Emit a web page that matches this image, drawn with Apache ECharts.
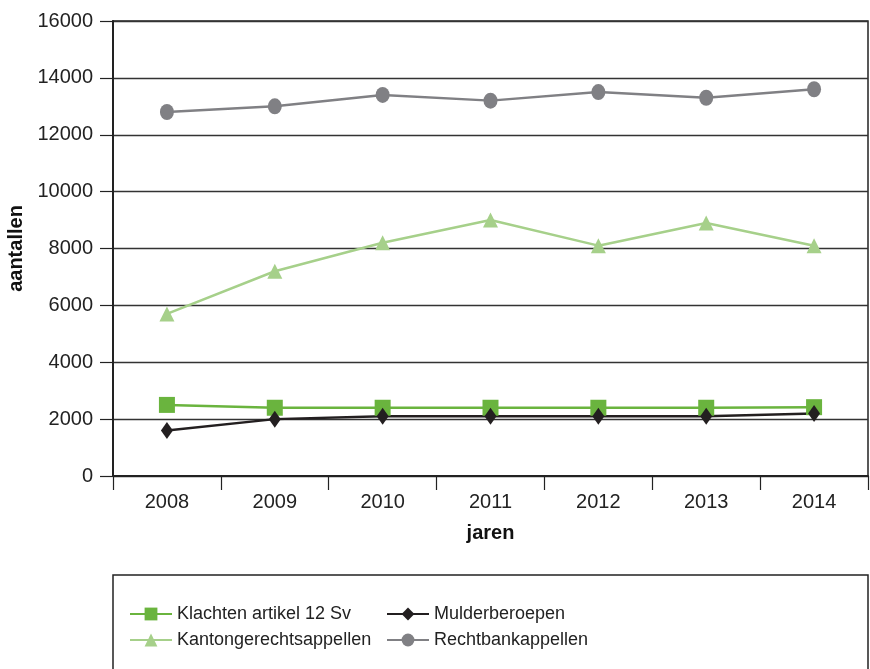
<!DOCTYPE html>
<html>
<head>
<meta charset="utf-8">
<script src="https://cdn.jsdelivr.net/npm/echarts@6/dist/echarts.min.js"></script>
<style>
  html, body { margin: 0; padding: 0; background: #fff; }
  #chart { width: 870px; height: 669px; }
</style>
</head>
<body>
<div id="chart"></div>
<script>
const years = ['2008', '2009', '2010', '2011', '2012', '2013', '2014']
const klachten = [2500, 2400, 2400, 2400, 2400, 2400, 2420]
const mulder = [1600, 2000, 2100, 2100, 2100, 2100, 2200]
const kanton = [5700, 7200, 8200, 9000, 8100, 8900, 8100]
const rechtbank = [12800, 13000, 13400, 13200, 13500, 13300, 13600]

const font = 'Liberation Sans, Arial, sans-serif'

const chart = echarts.init(document.getElementById('chart'))

function line(name, data, color, symbol, size) {
  return {
    name: name,
    type: 'line',
    data: data,
    symbol: symbol,
    symbolSize: size,
    lineStyle: { color: color, width: 2.5 },
    itemStyle: { color: color },
    animation: false,
  }
}

// legenda in twee kolommen
const legendCommon = {
  orient: 'vertical',
  top: 600,
  itemWidth: 42,
  itemHeight: 16,
  itemGap: 8,
  textStyle: { fontFamily: font, fontSize: 18, color: '#222' },
}

chart.setOption({
  backgroundColor: '#fff',
  grid: {
    left: 113,
    right: 2,
    top: 21,
    bottom: 193,
    outerBoundsMode: 'none',
    containLabel: false,
    show: true,
    borderColor: '#222',
    borderWidth: 1.5,
  },
  xAxis: {
    type: 'category',
    data: years,
    boundaryGap: true,
    name: 'jaren',
    nameLocation: 'middle',
    nameGap: 47,
    nameTextStyle: { fontFamily: font, fontWeight: 'bold', fontSize: 20, color: '#111' },
    axisLine: { lineStyle: { color: '#222', width: 2 } },
    axisTick: { show: true, length: 14, lineStyle: { color: '#222', width: 1.2 } },
    axisLabel: { margin: 16, fontFamily: font, fontSize: 20, color: '#222' },
  },
  yAxis: {
    type: 'value',
    min: 0,
    max: 16000,
    interval: 2000,
    name: 'aantallen',
    nameLocation: 'middle',
    nameGap: 86,
    nameTextStyle: { fontFamily: font, fontWeight: 'bold', fontSize: 20, color: '#111' },
    axisLine: { show: true, lineStyle: { color: '#222', width: 2 } },
    axisTick: { show: true, length: 13, lineStyle: { color: '#222', width: 1.2 } },
    axisLabel: { margin: 20, fontFamily: font, fontSize: 20, color: '#222', formatter: (v) => String(v) },
    splitLine: { lineStyle: { color: '#333', width: 1.3 } },
  },
  legend: [
    Object.assign({ left: 124, data: ['Klachten artikel 12 Sv', 'Kantongerechtsappellen'] }, legendCommon),
    Object.assign({ left: 381, data: ['Mulderberoepen', 'Rechtbankappellen'] }, legendCommon),
  ],
  graphic: [{
    type: 'rect',
    shape: { x: 113, y: 575, width: 755, height: 110 },
    style: { fill: 'none', stroke: '#222', lineWidth: 1.5 },
    silent: true,
  }],
  series: [
    line('Klachten artikel 12 Sv', klachten, '#6ab43e', 'rect', 16),
    line('Mulderberoepen', mulder, '#231f20', 'diamond', [12, 17]),
    line('Kantongerechtsappellen', kanton, '#a6d08a', 'triangle', 15),
    line('Rechtbankappellen', rechtbank, '#808084', 'circle', [14, 16]),
  ],
})
</script>
</body>
</html>
